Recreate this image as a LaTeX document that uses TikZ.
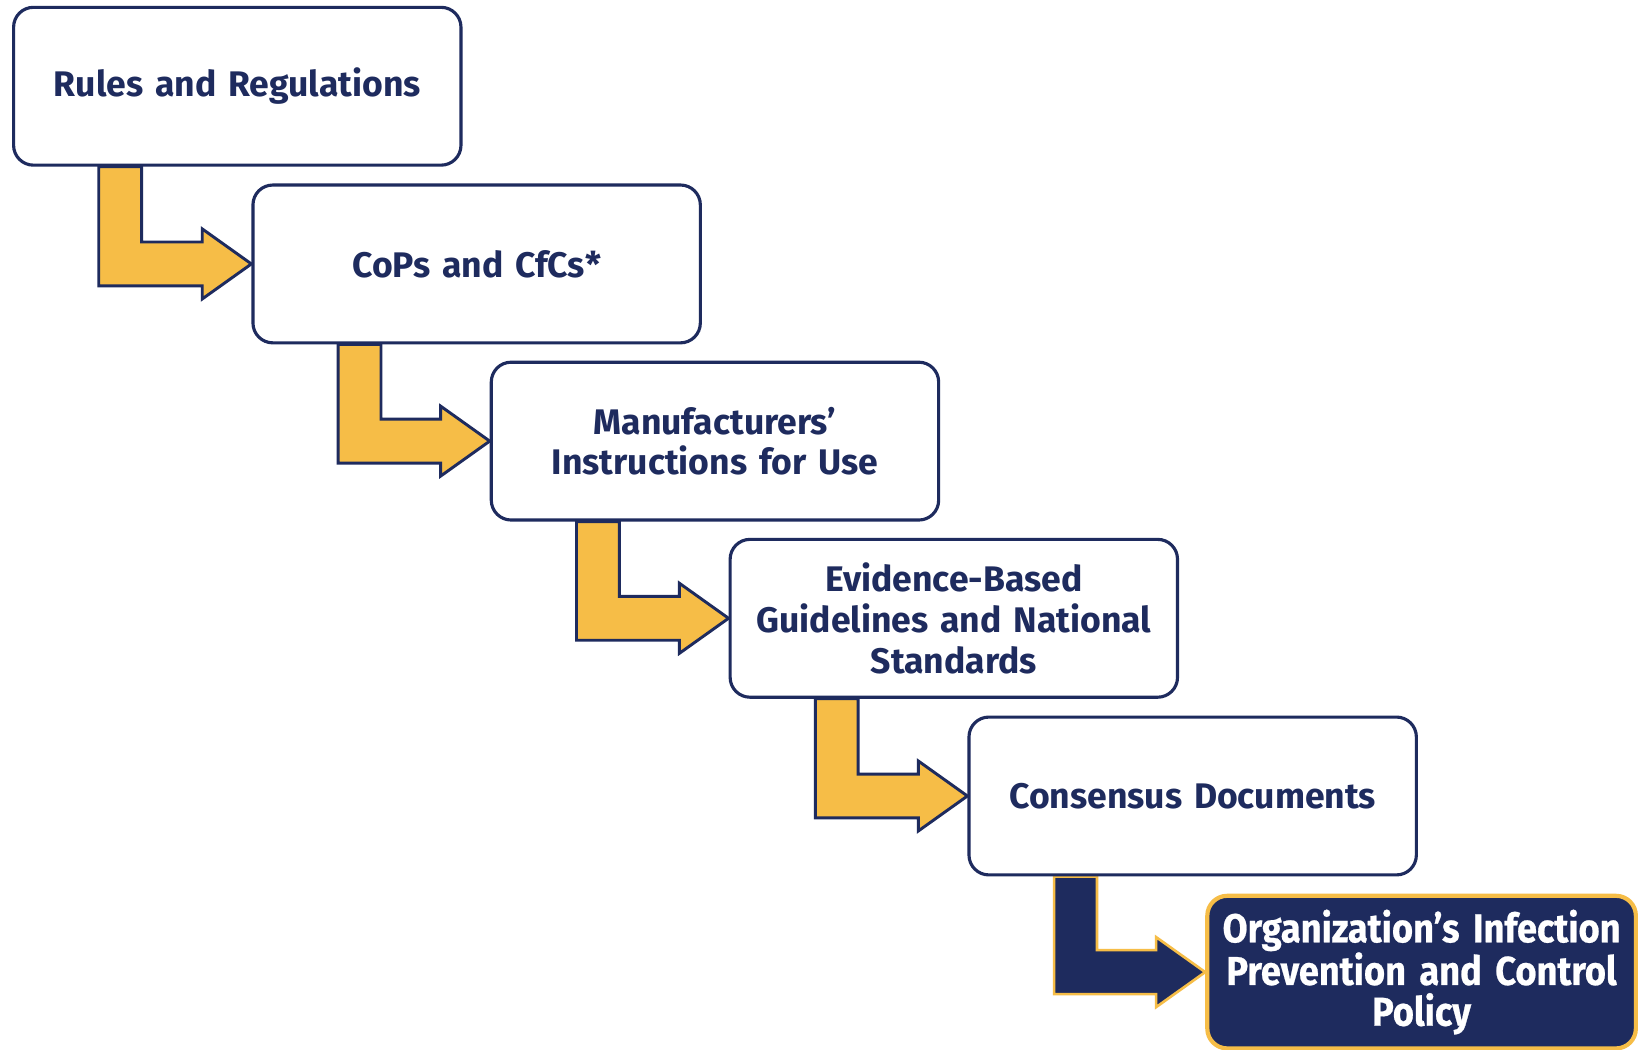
\documentclass[tikz,border=0pt]{standalone}
\usepackage{fontspec}
\setmainfont{Fira Sans}
\newfontfamily\condfont{Fira Sans}[FakeStretch=0.9, FakeBold=0.6]
\usetikzlibrary{calc}
\pgfdeclarelayer{back}
\pgfsetlayers{back,main}
\definecolor{navy}{HTML}{1E2B5E}
\definecolor{gold}{HTML}{F6BD47}
\tikzset{
  stage/.style={draw=navy, line width=3pt, fill=white, rounded corners=19pt,
    minimum width=428pt, minimum height=151pt, text width=415pt, align=center,
    text=navy, font=\fontsize{34}{39}\selectfont\bfseries, inner sep=0pt},
  final/.style={stage, draw=gold, fill=navy, text=white, line width=4pt,
    minimum width=410pt, minimum height=146pt, text width=405pt,
    font=\condfont\fontsize{38.5}{39}\selectfont\bfseries},
  goldarrow/.style={fill=gold, draw=navy, line width=2.8pt, line join=miter},
  navyarrow/.style={fill=navy, draw=gold, line width=2.5pt, line join=miter}
}
\newcommand\bentarrow[3]{%
  \coordinate (s1) at ($(#1.south west)+(83,0)$);
  \coordinate (s2) at ($(#1.south west)+(124,0)$);
  \coordinate (t1) at ($(#2.west)+(-47,-21)$);
  \coordinate (t2) at ($(#2.west)+(-47,-33.5)$);
  \coordinate (t3) at ($(#2.west)+(-47,33.5)$);
  \coordinate (t4) at ($(#2.west)+(-47,21)$);
  \draw[#3] (s1) -- (s2) -- (s2 |- t1) -- (t1) -- (t2) -- (#2.west) -- (t3) -- (t4) -- (s1 |- t4) -- cycle;
}
\begin{document}
\begin{tikzpicture}[x=1pt,y=-1pt]
\useasboundingbox (0,0) rectangle (1568,1004);
\node[stage] (b1) at (227,82.5) {Rules and Regulations};
\node[stage] (b2) at (456,252.5) {CoPs and CfCs*};
\node[stage] (b3) at (684,422) {Manufacturers’\\Instructions for Use};
\node[stage] (b4) at (912.5,591.5) {Evidence-Based\\Guidelines and National\\Standards};
\node[stage] (b5) at (1141,761.5) {Consensus Documents};
\node[final] (b6) at (1360,930) {Organization’s Infection\\Prevention and Control\\Policy};
\begin{pgfonlayer}{back}
\fill[white] (0,0) rectangle (1568,1004);
\bentarrow{b1}{b2}{goldarrow}
\bentarrow{b2}{b3}{goldarrow}
\bentarrow{b3}{b4}{goldarrow}
\bentarrow{b4}{b5}{goldarrow}
\bentarrow{b5}{b6}{navyarrow}
\end{pgfonlayer}
\end{tikzpicture}
\end{document}
